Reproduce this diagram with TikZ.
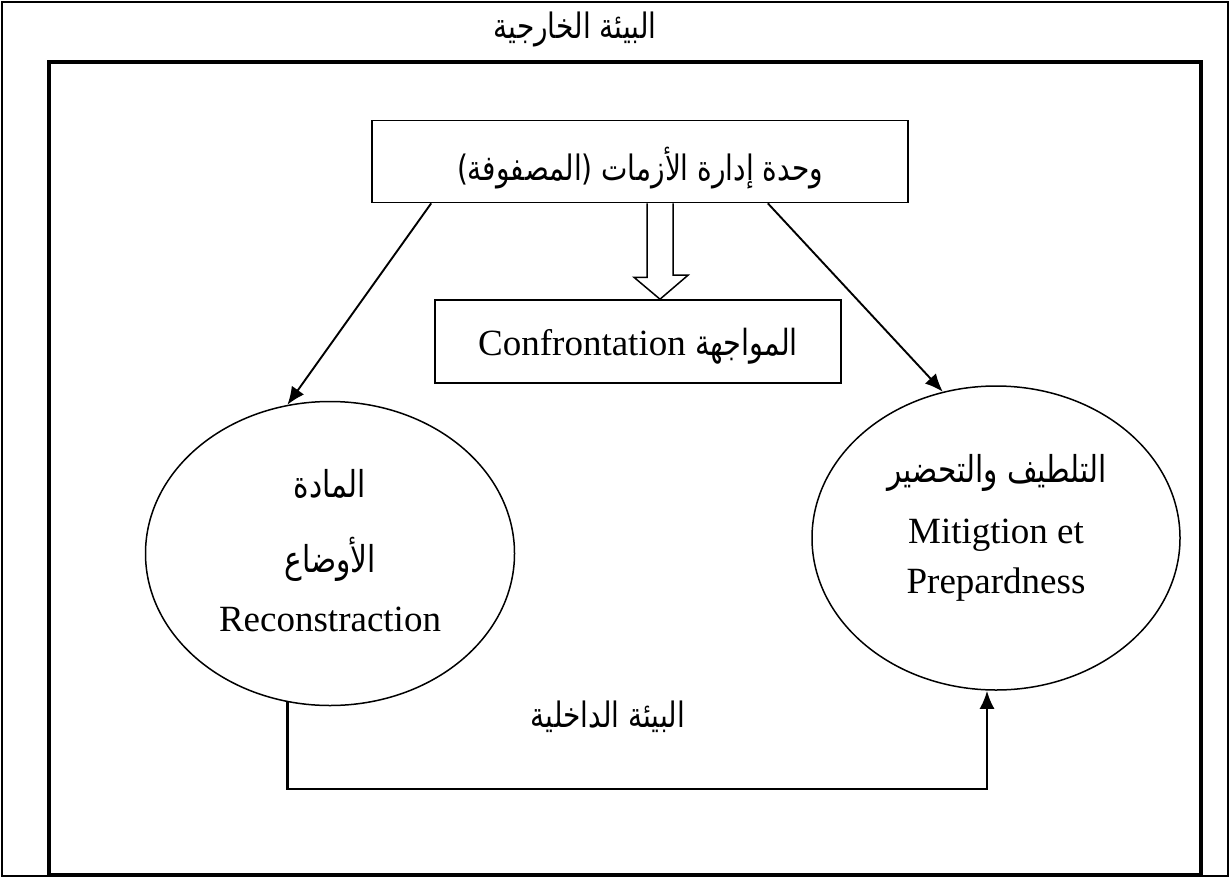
\documentclass[tikz,border=0pt]{standalone}
\usepackage{fontspec}
\setmainfont{Liberation Serif}
\newfontfamily\arabicfont[Script=Arabic,FakeStretch=0.8]{DejaVu Sans}
\TeXXeTstate=1
\usetikzlibrary{shapes.geometric,arrows.meta,calc}
% right-to-left Arabic run
\newcommand\artext[1]{{\arabicfont\beginR #1\endR}}

\begin{document}
\begin{tikzpicture}[x=1pt,y=-1pt,
  box/.style={draw, rectangle, line width=1.6pt, inner sep=0pt},
  oval/.style={draw, ellipse, line width=1.5pt, inner sep=0pt},
  tip/.style={-{Latex[length=18pt,width=15pt]}},
  link/.style={line width=1.9pt, tip},
  latin/.style={inner sep=0pt, anchor=base, font=\fontsize{37}{40}\selectfont},
  arserif/.style={inner sep=0pt, anchor=base, font=\fontsize{37}{40}\selectfont},
  arsans/.style={inner sep=0pt, anchor=base, font=\fontsize{35}{38}\selectfont},
]
\useasboundingbox (0,0) rectangle (1230,878);

% outer and inner environment frames
\draw[line width=2.5pt] (2,2) rectangle (1228,876);
\draw[line width=3.5pt] (49,62) rectangle (1201,875);
\node[arsans] (outer) at (575,38) {\artext{البيئة الخارجية}};

% crisis management unit
\node[box, minimum width=536pt, minimum height=82pt] (unit) at (640,161.5) {};
\node[arsans] (unittext) at (640,180) {\artext{وحدة إدارة الأزمات (المصفوفة)}};

% confrontation
\node[box, minimum width=406pt, minimum height=83pt] (conf) at (638,341.5) {};
\node[latin] (conftext) at (638,355)
  {Confrontation {\fontsize{36}{40}\selectfont\artext{المواجهة}}};

% hollow block arrow from the unit down to confrontation
\draw[line width=1.5pt, fill=white]
  ($(unit.south)+(7,0)$) -- ++(0,74) -- ++(-13,0) -- (conf.north -| 660,0)
  -- ++(28,-24) -- ++(-15,0) -- ($(unit.south)+(33,0)$);

% reconstruction phase
\node[oval, minimum width=369pt, minimum height=304pt] (recon) at (330,553.5) {};
\node[arserif] (recon1) at (330,497) {\artext{المادة}};
\node[arserif] (recon2) at (330,572) {\artext{الأوضاع}};
\node[latin] (recon3) at (330,631) {Reconstraction};

% mitigation and preparedness phase
\node[oval, minimum width=368pt, minimum height=304pt] (mitig) at (996,538) {};
\node[arserif] (mitig1) at (997,482) {\artext{التلطيف والتحضير}};
\node[latin] (mitig2) at (996,543) {Mitigtion et};
\node[latin] (mitig3) at (996,593) {Prepardness};

% arrows from the unit to both phases
\draw[link] ($(unit.south west)+(60,0)$) -- (recon.106);
\draw[link] ($(unit.south east)+(-141,0)$) -- (mitig.110);

% internal environment loop
\coordinate (loopR) at (987,789);
\draw[line width=2.4pt, tip]
  (recon.254) |- (loopR) -- (loopR |- mitig.south);
\node[arsans] (inner) at (608,727) {\artext{البيئة الداخلية}};
\end{tikzpicture}
\end{document}
